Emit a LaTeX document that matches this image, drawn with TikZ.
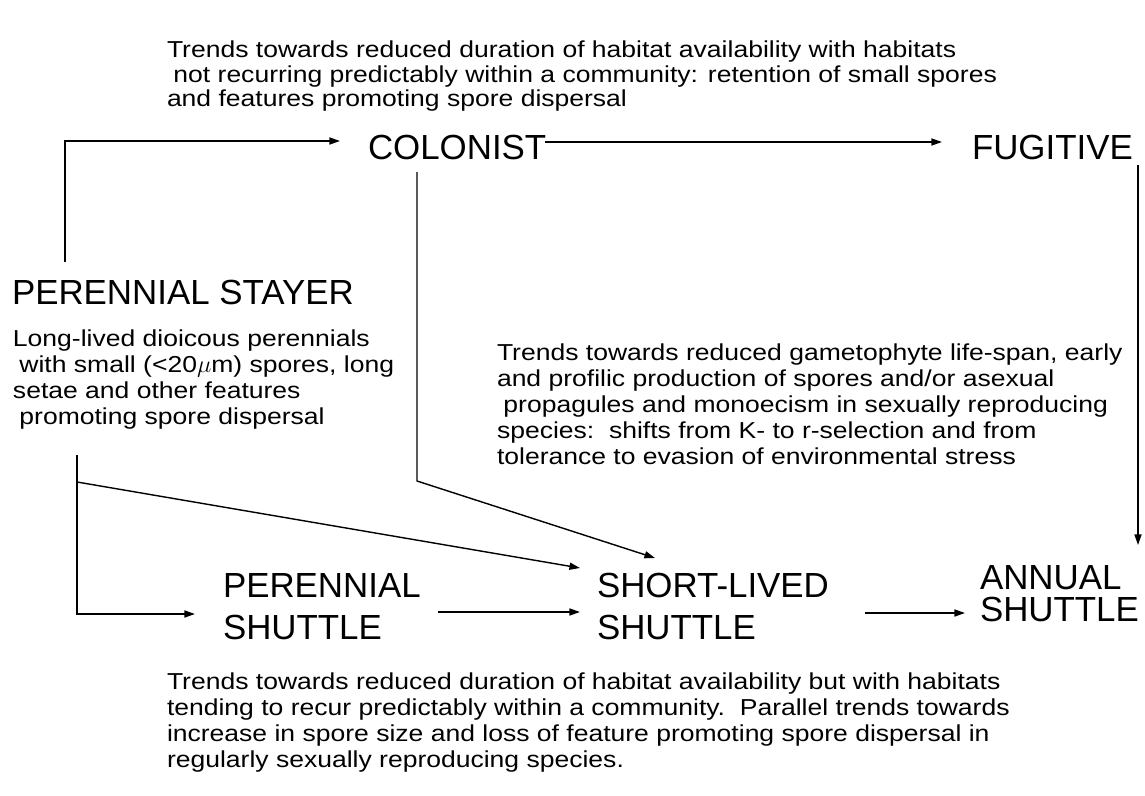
\documentclass[tikz,border=0pt]{standalone}
\usepackage{fontspec}
\setmainfont{Liberation Sans}
\newfontfamily\notefont[FakeStretch=1.15]{Liberation Sans}
\usetikzlibrary{arrows.meta, positioning, calc}

\begin{document}
\begin{tikzpicture}[
  x=0.025cm, y=-0.025cm,
  every node/.style={inner sep=0pt, outer sep=0pt, anchor=north west, align=left},
  stage/.style={font=\fontsize{24.8}{29.9}\selectfont},
  note/.style={font=\notefont\fontsize{16.4}{18.5}\selectfont},
  arr/.style={-{Triangle[length=7.5pt,width=5pt]}, line width=1pt}
]
  \useasboundingbox (0,0) rectangle (1145,796);

  \node[note, font=\notefont\fontsize{16.4}{17.4}\selectfont] (toptxt) at (167,41)
    {Trends towards reduced duration of habitat availability with habitats\\
     \hspace*{0.28em}not recurring predictably within a community: retention of small spores\\
     and features promoting spore dispersal};
  \node[stage] (colonist) at (368,135) {COLONIST};
  \node[stage] (fugitive) at (972,135) {FUGITIVE};
  \node[stage] (stayer)   at (12,280)  {PERENNIAL STAYER};
  \node[note]  (stayertxt) at (13,330)
    {Long-lived dioicous perennials\\
     \hspace*{0.28em}with small (<20$\mu$m) spores, long\\
     setae and other features\\
     \hspace*{0.28em}promoting spore dispersal};
  \node[note]  (midtxt) at (497,344)
    {Trends towards reduced gametophyte life-span, early\\
     and profilic production of spores and/or asexual\\
     \hspace*{0.28em}propagules and monoecism in sexually reproducing\\
     species:\ \ shifts from K- to r-selection and from\\
     tolerance to evasion of environmental stress};
  \node[stage] (pshuttle) at (223,573) {PERENNIAL\\SHUTTLE};
  \node[stage] (sshuttle) at (597,573) {SHORT-LIVED\\SHUTTLE};
  \node[stage, font=\fontsize{24.8}{22.8}\selectfont] (ashuttle) at (980,565) {ANNUAL\\SHUTTLE};
  \node[note]  (bottxt) at (167,673)
    {Trends towards reduced duration of habitat availability but with habitats\\
     tending to recur predictably within a community.\ \ Parallel trends towards\\
     increase in spore size and loss of feature promoting spore dispersal in\\
     regularly sexually reproducing species.};

  % upper route
  \draw[arr] ($(stayer.north west)+(53,-18)$) |- ($(colonist.north west)+(-28,6)$);
  \draw[arr] ($(colonist.north west)+(177,7)$) -- ($(fugitive.north west)+(-30,7)$);
  \draw[arr] ($(fugitive.north west)+(166,30)$) -- ($(ashuttle.north west)+(158,-20)$);
  \draw[arr] ($(colonist.north west)+(49,37)$) -- ++(0,309)
    -- ($(sshuttle.north west)+(58,-15)$);
  % lower route
  \draw[arr] ($(stayertxt.north west)+(64,125)$) |- ($(pshuttle.north west)+(-28,41)$);
  \draw[arr] ($(stayertxt.north west)+(64,152)$) -- ($(sshuttle.north west)+(-17,-5)$);
  \draw[arr] ($(pshuttle.north west)+(215,39)$) -- ($(sshuttle.north west)+(-17,39)$);
  \draw[arr] ($(sshuttle.north west)+(268,40)$) -- ($(ashuttle.north west)+(-15,48)$);
\end{tikzpicture}
\end{document}
